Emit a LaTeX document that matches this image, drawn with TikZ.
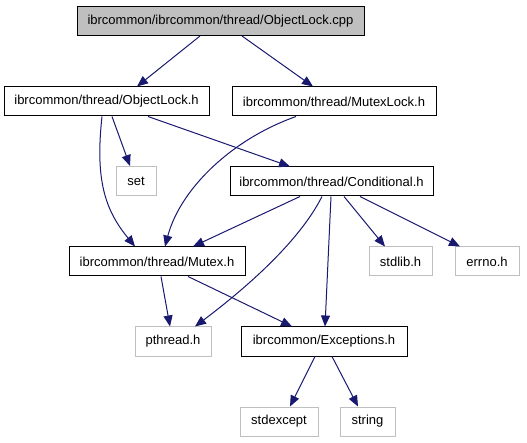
\documentclass[tikz,border=0pt]{standalone}
\usepackage{fontspec}
\setmainfont{Liberation Sans}
\usetikzlibrary{arrows.meta}
\definecolor{edgeblue}{HTML}{191970}
\definecolor{boxgray}{HTML}{BFBFBF}
\begin{document}
\begin{tikzpicture}[x=1pt,y=-1pt,
  file/.style={draw=black, line width=1pt, inner sep=0pt, minimum height=29pt,
    font=\fontsize{13}{15}\selectfont, text=black},
  sysfile/.style={file, draw=boxgray},
  edge/.style={draw=edgeblue, line width=1pt,
    -{Triangle[length=11pt,width=9pt]}}]
\useasboundingbox (0,0) rectangle (527,443);

\node[file, fill=boxgray, minimum width=287pt] (cpp) at (220.5,21) {ibrcommon/ibrcommon/thread/ObjectLock.cpp};
\node[file, minimum width=205pt] (objlock) at (106.5,101.5) {ibrcommon/thread/ObjectLock.h};
\node[file, minimum width=204pt] (mutexlock) at (334,101.5) {ibrcommon/thread/MutexLock.h};
\node[sysfile, minimum width=40pt] (set) at (136,181) {set};
\node[file, minimum width=203pt] (cond) at (331.5,181.5) {ibrcommon/thread/Conditional.h};
\node[file, minimum width=176pt] (mutex) at (157,261.5) {ibrcommon/thread/Mutex.h};
\node[sysfile, minimum width=63pt] (stdlib) at (400.5,261.5) {stdlib.h};
\node[sysfile, minimum width=64pt] (errno) at (487,261.5) {errno.h};
\node[sysfile, minimum width=76pt] (pthread) at (173,341.5) {pthread.h};
\node[file, minimum width=166pt] (exc) at (324,341.5) {ibrcommon/Exceptions.h};
\node[sysfile, minimum width=78pt] (stdexcept) at (279,421.5) {stdexcept};
\node[sysfile, minimum width=55pt] (string) at (367.5,421.5) {string};

% includes
\draw[edge] ([xshift=-20.5pt]cpp.south) -- ([xshift=30.5pt]objlock.north);
\draw[edge] ([xshift=21.5pt]cpp.south) -- ([xshift=-21pt]mutexlock.north);
\draw[edge] ([xshift=-4.5pt]objlock.south) .. controls (95,180) and (105,210) .. ([xshift=-22pt]mutex.north);
\draw[edge] ([xshift=5.5pt]objlock.south) -- ([xshift=-6pt]set.north);
\draw[edge] ([xshift=41.5pt]objlock.south) -- ([xshift=-41.5pt]cond.north);
\draw[edge] ([xshift=-38pt]mutexlock.south) .. controls (230,140) and (180,190) .. ([xshift=8pt]mutex.north);
\draw[edge] ([xshift=-31.5pt]cond.south) -- ([xshift=36pt]mutex.north);
\draw[edge] ([xshift=-9.5pt]cond.south) .. controls (300,240) and (250,285) .. ([xshift=22pt]pthread.north);
\draw[edge] ([xshift=-0.5pt]cond.south) -- ([xshift=1pt]exc.north);
\draw[edge] ([xshift=12.5pt]cond.south) -- ([xshift=-15.5pt]stdlib.north);
\draw[edge] ([xshift=28.5pt]cond.south) -- ([xshift=-27pt]errno.north);
\draw[edge] ([xshift=4pt]mutex.south) -- ([xshift=-3pt]pthread.north);
\draw[edge] ([xshift=31pt]mutex.south) -- ([xshift=-32pt]exc.north);
\draw[edge] ([xshift=-9pt]exc.south) -- ([xshift=11pt]stdexcept.north);
\draw[edge] ([xshift=8pt]exc.south) -- ([xshift=-9.5pt]string.north);
\end{tikzpicture}
\end{document}
